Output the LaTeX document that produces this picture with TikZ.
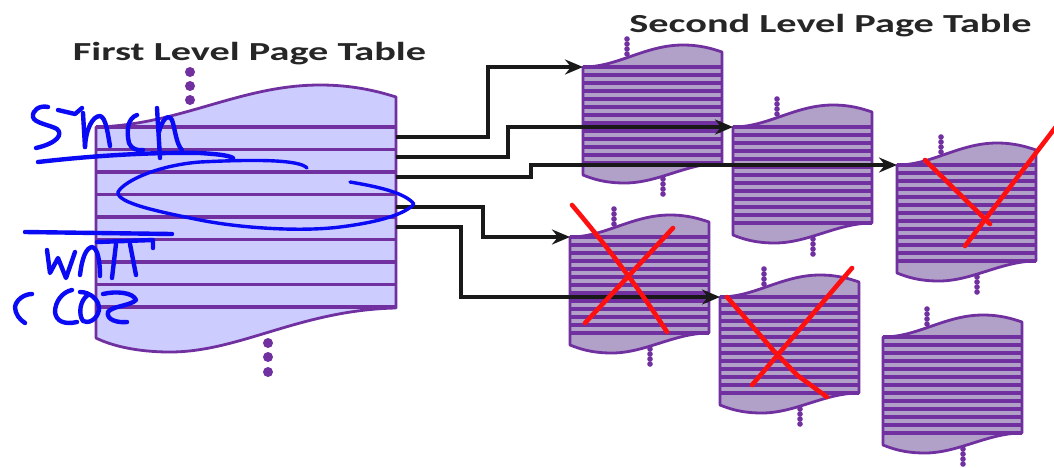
\documentclass[tikz,border=0pt]{standalone}
\usepackage{fontspec}
\setmainfont{Carlito}
\usetikzlibrary{arrows.meta}

\definecolor{tblline}{HTML}{7030A0}
\definecolor{firstfill}{HTML}{CCCCFF}
\definecolor{secondfill}{HTML}{B1A0C7}
\definecolor{inkblue}{HTML}{0A0AF5}
\definecolor{inkred}{HTML}{FF1010}

\tikzset{
  outline/.style={draw=tblline, line width=2.8pt, line join=round},
  stripeone/.style={draw=tblline, line width=3.2pt},
  stripetwo/.style={draw=tblline, line width=3.2pt},
  link/.style={draw=black!90, line width=3.4pt,
    -{Stealth[length=18pt,width=15pt,inset=6pt]}},
  heading/.style={text=black!85, font=\bfseries\fontsize{26}{26}\selectfont, anchor=base, inner sep=0pt},
  redink/.style={draw=inkred, line width=4.6pt, line cap=round, line join=round},
  blueink/.style={draw=inkblue, line width=4.4pt, line cap=round, line join=round},
  thinink/.style={draw=inkblue, line width=3.4pt, line cap=round, line join=round},
}

% outline of one second level table, relative to its top-left corner
\def\ltwopath{(0,0) .. controls (35,0) and (62,-22) .. (100,-22)
  .. controls (118,-22) and (130,-18) .. (139,-15) -- (139,96)
  .. controls (105,96) and (75,116) .. (42,116)
  .. controls (22,116) and (10,112) .. (0,108) -- cycle}

% #1 name, #2 left x, #3 top y
\newcommand\leveltwo[3]{%
  \begin{scope}[shift={(#2,#3)}]
    \coordinate (#1) at (0,0);
    \fill[secondfill] \ltwopath;
    \foreach \k in {0,...,12} \draw[stripetwo] (0,8*\k) -- (139,8*\k);
    \draw[outline] \ltwopath;
    \foreach \k in {0,...,3} {
      \fill[tblline] (44,-13-5*\k) circle (2.8pt);
      \fill[tblline] (80,112+5*\k) circle (2.8pt);
    }
  \end{scope}}

\begin{document}
\begin{tikzpicture}[x=1pt,y=-1pt]
\useasboundingbox (0,0) rectangle (1054,467);
\fill[white] (0,0) rectangle (1054,467);

% headings
\node[heading] (h1) at (249.5,60) {\scalebox{1.55}[1]{First Level Page Table}};
\node[heading] (h2) at (830.5,32) {\scalebox{1.55}[1]{Second Level Page Table}};

% first level table
\def\lonepath{(96,127) .. controls (180,125) and (240,85) .. (320,85)
  .. controls (355,85) and (380,92) .. (396,97) -- (396,308)
  .. controls (300,310) and (240,352) .. (170,352)
  .. controls (135,352) and (110,345) .. (96,338) -- cycle}
\fill[firstfill] \lonepath;
\foreach \k in {0,...,8} \draw[stripeone] (96,127+22.5*\k) -- (396,127+22.5*\k);
\draw[outline] \lonepath;
\foreach \y in {72,86,100} \fill[tblline] (190,\y) circle (5pt);
\foreach \y in {343,357,372} \fill[tblline] (268,\y) circle (5pt);

% entry points on the first level table
\coordinate (o1) at (396,137);
\coordinate (o2) at (396,157);
\coordinate (o3) at (396,177);
\coordinate (o4) at (396,207);
\coordinate (o5) at (396,227);

% second level tables
\leveltwo{A}{583}{67}
\leveltwo{B}{733}{127}
\leveltwo{C}{897}{165}
\leveltwo{D}{570}{237}
\leveltwo{E}{720}{297}
\leveltwo{F}{883}{337}

% pointers
\draw[link] (o1) -- ++(92,0) |- (A);
\draw[link] (o2) -- ++(112,0) |- (B);
\draw[link] (o3) -- ++(135,0) |- (C);
\draw[link] (o4) -- ++(87,0) |- (D);
\draw[link] (o5) -- ++(65,0) |- (E);

% red marks
\draw[redink] (925,160) -- (990,224);
\draw[redink] (965,246) -- (1058,124);
\draw[redink] (572,205) .. controls (610,250) and (640,290) .. (667,332);
\draw[redink] (673,228) -- (585,323);
\draw[redink] (727,297) -- (773,350) -- (797,375) -- (827,397);
\draw[redink] (852,268) -- (752,385);

% blue handwriting
\draw[blueink] (48,107) .. controls (40,105) and (32,110) .. (33,117)
  .. controls (34,123) and (50,125) .. (57,129)
  .. controls (63,134) and (58,143) .. (36,148);
\draw[blueink] (38,162) .. controls (90,156) and (150,152) .. (200,153)
  .. controls (215,154) and (228,155) .. (233,158);
\draw[blueink] (58,110) -- (75,114) -- (82,108);
\draw[blueink] (83,113) -- (85,147);
\draw[blueink] (85,147) .. controls (86,128) and (93,116) .. (100,116)
  .. controls (106,117) and (108,135) .. (110,146);
\draw[blueink] (137,115) .. controls (128,118) and (126,130) .. (129,143)
  .. controls (131,149) and (138,151) .. (143,150);
\draw[blueink] (157,108) -- (160,158);
\draw[blueink] (159,132) .. controls (162,120) and (168,113) .. (172,120)
  .. controls (175,128) and (176,144) .. (182,150);
\draw[thinink] (307,168) .. controls (300,160) and (260,159) .. (200,162)
  .. controls (160,165) and (125,180) .. (118,192)
  .. controls (116,203) and (160,212) .. (200,220)
  .. controls (240,228) and (300,232) .. (340,227)
  .. controls (380,222) and (405,214) .. (414,204)
  .. controls (405,193) and (380,187) .. (350,182);
\draw[blueink] (25,232) -- (172,234);
\draw[blueink] (47,250) -- (50,273) -- (58,258) -- (66,278) -- (75,252);
\draw[blueink] (80,275) .. controls (82,258) and (86,248) .. (92,247)
  .. controls (98,248) and (100,262) .. (100,276);
\draw[blueink] (97,242) -- (153,240) -- (153,248);
\draw[blueink] (116,244) -- (112,278);
\draw[blueink] (130,244) -- (136,275);
\draw[blueink] (32,294) .. controls (24,294) and (16,300) .. (15,307)
  .. controls (15,314) and (20,320) .. (25,323);
\draw[blueink] (72,290) .. controls (62,292) and (55,302) .. (55,312)
  .. controls (56,321) and (64,325) .. (77,322);
\draw[blueink] (80,292) .. controls (90,292) and (100,300) .. (99,310)
  .. controls (97,320) and (88,324) .. (83,321)
  .. controls (78,314) and (80,300) .. (88,295);
\draw[blueink] (103,294) .. controls (115,291) and (133,292) .. (136,300)
  .. controls (130,306) and (112,306) .. (108,312)
  .. controls (106,320) and (118,323) .. (127,322);
\end{tikzpicture}
\end{document}
